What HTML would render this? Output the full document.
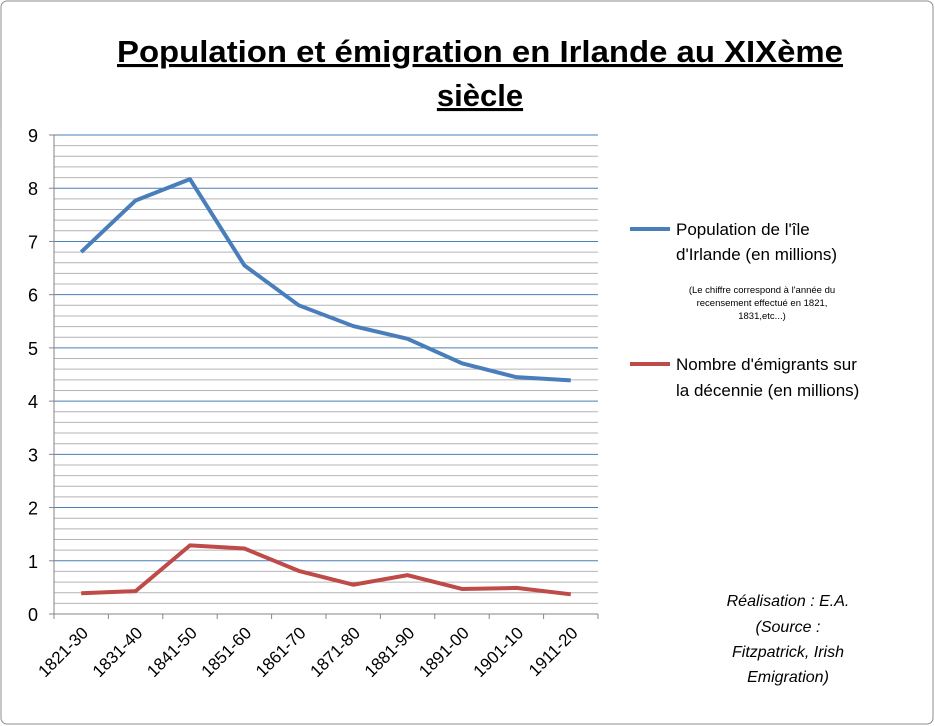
<!DOCTYPE html>
<html><head><meta charset="utf-8"><style>
body{margin:0;background:#fff;font-family:"Liberation Sans",sans-serif}
#wrap{position:relative;width:935px;height:726px;overflow:hidden}
</style></head><body>
<div id="wrap">
<svg id="chart" width="935" height="726" font-family="Liberation Sans, sans-serif">
<rect x="1" y="1" width="932" height="723" rx="6" fill="#fff" stroke="#8c8c8c"/>
<text x="480" y="62" text-anchor="middle" font-size="31" font-weight="bold" text-decoration="underline" textLength="726" lengthAdjust="spacingAndGlyphs">Population et émigration en Irlande au XIXème</text>
<text x="480" y="106" text-anchor="middle" font-size="31" font-weight="bold" text-decoration="underline">siècle</text>
<g id="grid"></g><g id="axes"></g><g id="series"></g>
<g>
<line x1="630" y1="229" x2="670" y2="229" stroke="#4a7ebb" stroke-width="4"/>
<text x="676" y="235" font-size="17">Population de  l'île</text>
<text x="676" y="260" font-size="17">d'Irlande (en millions)</text>
<text x="762" y="293" font-size="9.5" text-anchor="middle"><tspan x="762">(Le chiffre correspond à l'année du</tspan><tspan x="762" dy="13">recensement effectué en 1821,</tspan><tspan x="762" dy="13">1831,etc...)</tspan></text>
<line x1="630" y1="364" x2="670" y2="364" stroke="#be4b48" stroke-width="4"/>
<text x="676" y="370" font-size="17">Nombre d'émigrants sur</text>
<text x="676" y="396" font-size="17">la décennie (en millions)</text>
</g>
<g font-size="16" font-style="italic" text-anchor="middle">
<text x="788" y="606">Réalisation : E.A.</text>
<text x="788" y="632">(Source :</text>
<text x="788" y="657">Fitzpatrick, Irish</text>
<text x="788" y="682">Emigration)</text>
</g>
</svg>
</div>
<script>
const categories=["1821-30","1831-40","1841-50","1851-60","1861-70","1871-80","1881-90","1891-00","1901-10","1911-20"];
const population=[6.8,7.77,8.17,6.55,5.8,5.41,5.17,4.71,4.45,4.39];
const emigrants=[0.39,0.43,1.29,1.23,0.81,0.55,0.73,0.47,0.49,0.37];
const yTicks=[0,1,2,3,4,5,6,7,8,9];
const NS="http://www.w3.org/2000/svg";
const X0=54,X1=598,Y0=614,Y1=135,YMAX=9;
const y=v=>Y0-(v/YMAX)*(Y0-Y1);
const band=(X1-X0)/categories.length;
const x=i=>X0+band*(i+0.5);
function mk(t,a,p){const e=document.createElementNS(NS,t);for(const k in a)e.setAttribute(k,a[k]);p.appendChild(e);return e;}
const grid=document.getElementById('grid'),axes=document.getElementById('axes'),series=document.getElementById('series');
for(let v=0.2;v<YMAX;v+=0.2){const r=Math.round(v*10)/10;if(Math.abs(r-Math.round(r))<0.01)continue;
 const l=mk('line',{x1:X0,x2:X1,y1:y(r),y2:y(r),stroke:'#b4b4b4','stroke-width':1},grid);
 
 }
yTicks.forEach(v=>{
 if(v>0){const l=mk('line',{x1:X0,x2:X1,y1:y(v),y2:y(v),stroke:'#4a7ebb','stroke-width':1},grid);
 
 }
 const tk=mk('line',{x1:X0-5,x2:X0,y1:y(v),y2:y(v),stroke:'#868686'},axes);
 
 
 const t=mk('text',{x:38,y:y(v)+7,'text-anchor':'end','font-size':18},axes);t.textContent=v;
 
 
});
const ya=mk('line',{x1:X0,x2:X0,y1:Y1,y2:Y0+5,stroke:'#868686'},axes);


const xa=mk('line',{x1:X0,x2:X1,y1:Y0,y2:Y0,stroke:'#868686'},axes);


categories.forEach((c,i)=>{
 const tk=mk('line',{x1:X0+band*(i+1),x2:X0+band*(i+1),y1:Y0,y2:Y0+5,stroke:'#868686'},axes);
 
 
 const t=mk('text',{x:x(i)+8,y:Y0+20,'text-anchor':'end','font-size':17,transform:`rotate(-45 ${x(i)+8} ${Y0+20})`},axes);t.textContent=c;
 
 
});
function line(vals,color,name){const p=mk('polyline',{points:vals.map((v,i)=>x(i)+','+y(v)).join(' '),fill:'none',stroke:color,'stroke-width':4,'stroke-linejoin':'round'},series);
 
 }
line(population,'#4a7ebb','population-line');
line(emigrants,'#be4b48','emigrants-line');
</script>
</body></html>
